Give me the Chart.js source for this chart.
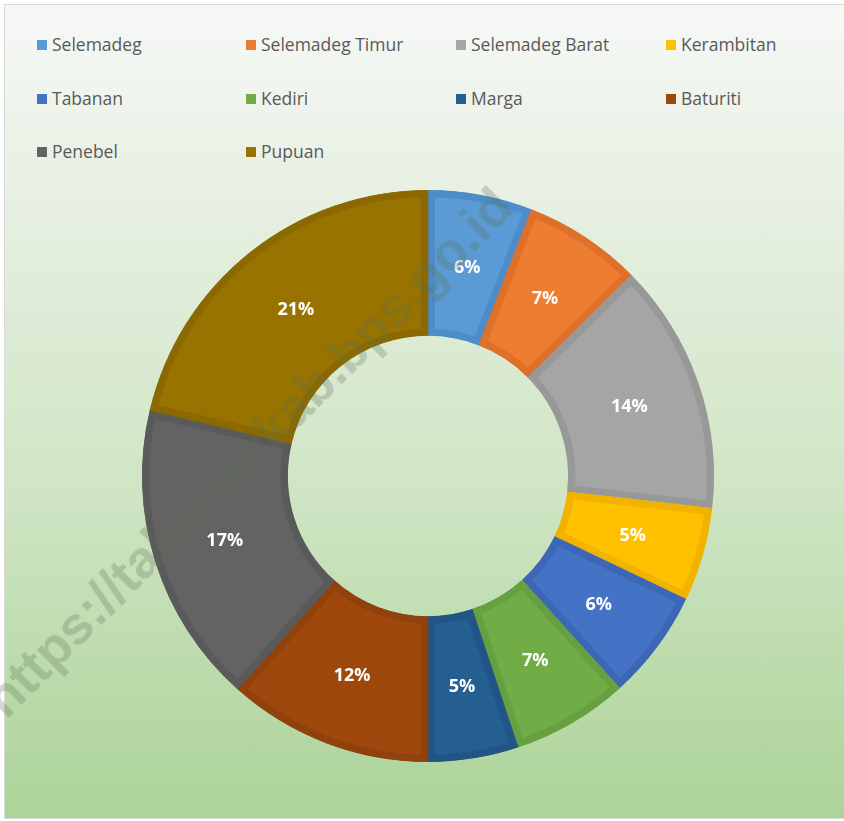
<!DOCTYPE html>
<html>
<head>
<meta charset="utf-8">
<script src="https://cdn.jsdelivr.net/npm/chart.js@4.4.1/dist/chart.umd.min.js"></script>
<style>
  html, body { margin: 0; padding: 0; background: #fff; }
  body { width: 844px; height: 821px; position: relative; overflow: hidden; }
  #panel {
    position: absolute; left: 4px; top: 4px; width: 850px; height: 813px;
    border: 1px solid #d9d9d9;
    background: linear-gradient(#f6f8f6 0%, #e3eedd 30%, #cfe5c4 60%, #acd398 100%);
  }
  #chartBox { position: absolute; left: 0; top: 0; width: 844px; height: 821px; }
  #legend { position: absolute; left: 0; top: 0; width: 844px; height: 180px; }
  .lg-item {
    position: absolute; display: flex; align-items: center;
    font-family: "Open Sans", sans-serif; font-size: 17.5px; color: #595959;
    white-space: nowrap; line-height: 1;
  }
  .lg-box { width: 10px; height: 10px; margin-right: 5px; }
  #watermark {
    position: absolute; left: 248px; top: 452px;
    transform: translate(-50%, -50%) rotate(-45deg);
    font-family: "Liberation Sans", Arial, sans-serif; font-weight: bold; font-size: 53px;
    color: rgba(90, 110, 80, 0.27); white-space: nowrap; line-height: 1;
    pointer-events: none;
  }
</style>
</head>
<body>
<div id="panel"></div>
<div id="legend"></div>
<div id="chartBox"><canvas id="donut" width="844" height="821"></canvas></div>
<div id="watermark">https://tabanankab.bps.go.id</div>

<script>
/* Share of each kecamatan (percent) */
const districts = ['Selemadeg', 'Selemadeg Timur', 'Selemadeg Barat', 'Kerambitan',
                   'Tabanan', 'Kediri', 'Marga', 'Baturiti', 'Penebel', 'Pupuan'];
const shares    = [5.9, 6.7, 14.2, 5.3, 6.2, 6.6, 5.1, 11.6, 17.1, 21.3];

const fillColors = ['#5b9bd5', '#ed7d31', '#a5a5a5', '#ffc000', '#4472c4',
                    '#70ad47', '#255e91', '#9e480e', '#636363', '#997300'];
const edgeColors = ['#4d8cc8', '#df7029', '#989898', '#f0b400', '#3d67b6',
                    '#66a040', '#215585', '#91420c', '#5a5a5a', '#8c6900'];

// legend laid out as a 4-column grid, like the original
function buildLegend() {
  const box = document.getElementById('legend');
  const colX = [37, 246, 456, 666];
  const rowY = [45, 99, 152];
  districts.forEach((name, i) => {
    const item = document.createElement('div');
    item.className = 'lg-item';
    item.style.left = colX[i % 4] + 'px';
    item.style.top = (rowY[Math.floor(i / 4)] - 10) + 'px';
    item.style.height = '20px';
    item.innerHTML = `<span class="lg-box" style="background:${fillColors[i]}"></span>${name}`;
    box.appendChild(item);
  });
}

// white percentage labels in the middle of each ring segment
const pctLabels = {
  id: 'pctLabels',
  afterDatasetsDraw(chart) {
    const ctx = chart.ctx;
    const meta = chart.getDatasetMeta(0);
    const data = chart.data.datasets[0].data;
    const total = data.reduce((s, v) => s + v, 0);
    ctx.save();
    ctx.fillStyle = '#ffffff';
    ctx.font = 'bold 18px "Open Sans", sans-serif';
    ctx.textAlign = 'center';
    ctx.textBaseline = 'middle';
    meta.data.forEach((arc, i) => {
      const pos = arc.tooltipPosition();
      ctx.fillText(Math.round(data[i] / total * 100) + '%', pos.x, pos.y + 1);
    });
    ctx.restore();
  }
};

document.addEventListener('DOMContentLoaded', () => {
  buildLegend();
  new Chart(document.getElementById('donut'), {
    type: 'doughnut',
    data: {
      labels: districts,
      datasets: [{
        data: shares,
        backgroundColor: fillColors,
        borderColor: edgeColors,
        borderWidth: 7,
        borderAlign: 'inner',
        borderJoinStyle: 'miter'
      }]
    },
    options: {
      responsive: false,
      animation: false,
      cutout: '49%',
      layout: { padding: { left: 142, right: 130, top: 190, bottom: 59 } },
      plugins: {
        legend: { display: false },
        tooltip: { enabled: false }
      },
      events: []
    },
    plugins: [pctLabels]
  });
});
</script>
</body>
</html>
